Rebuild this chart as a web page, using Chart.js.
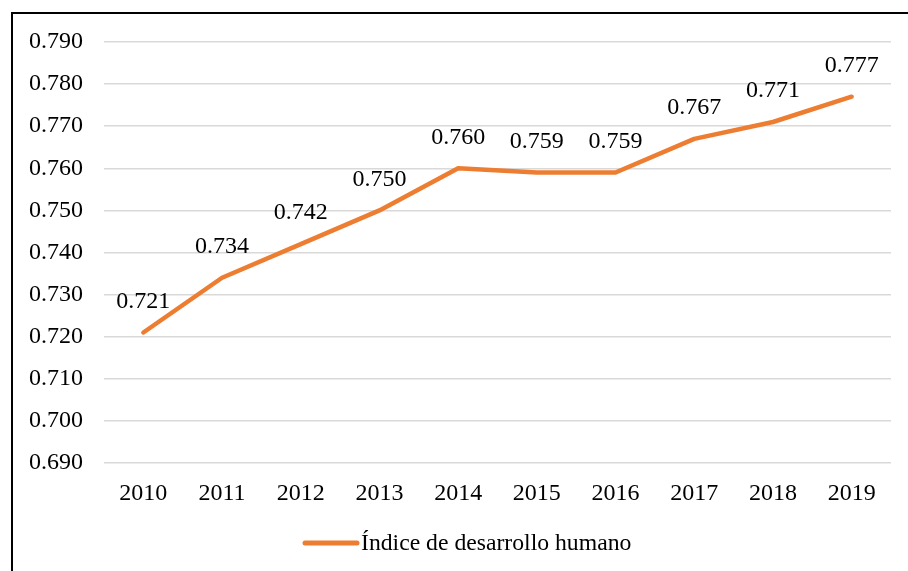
<!DOCTYPE html>
<html>
<head>
<meta charset="utf-8">
<script src="https://cdn.jsdelivr.net/npm/chart.js@4"></script>
<style>
  html, body { margin: 0; padding: 0; background: #fff; }
  #wrap { width: 908px; height: 571px; }
</style>
</head>
<body>
<div id="wrap"><canvas id="idh-chart" width="908" height="571"></canvas></div>
<script>
// Índice de desarrollo humano 2010-2019
const years = ['2010', '2011', '2012', '2013', '2014', '2015', '2016', '2017', '2018', '2019'];
const idhValues = [0.721, 0.734, 0.742, 0.750, 0.760, 0.759, 0.759, 0.767, 0.771, 0.777];
const seriesName = 'Índice de desarrollo humano';
const yMin = 0.69;
const yMax = 0.79;
const yStep = 0.01;

const FONT = 'Liberation Serif, Times New Roman, serif';

// outer frame (only left and top edges are visible in the picture)
const framePlugin = {
    id: 'frame',
    beforeDraw(chart) {
        const ctx = chart.ctx;
        ctx.save();
        ctx.fillStyle = '#fff';
        ctx.fillRect(0, 0, chart.width, chart.height);
        ctx.strokeStyle = '#000';
        ctx.lineWidth = 2;
        ctx.beginPath();
        ctx.moveTo(12, chart.height + 2);
        ctx.lineTo(12, 13);
        ctx.lineTo(chart.width + 2, 13);
        ctx.stroke();
        ctx.restore();
    }
};

// value labels above each point
const valueLabels = {
    id: 'valueLabels',
    afterDatasetsDraw(chart) {
        const ctx = chart.ctx;
        const meta = chart.getDatasetMeta(0);
        const data = chart.data.datasets[0].data;
        ctx.save();
        ctx.font = '24px ' + FONT;
        ctx.fillStyle = '#000';
        ctx.textAlign = 'center';
        ctx.textBaseline = 'middle';
        meta.data.forEach(function(pt, i) {
            ctx.fillText(data[i].toFixed(3), pt.x, pt.y - 31);
        });
        ctx.restore();
    }
};

// legend drawn like the spreadsheet one: short thick line + text
const lineLegend = {
    id: 'lineLegend',
    afterDraw(chart) {
        const ctx = chart.ctx;
        const ds = chart.data.datasets[0];
        const y = 543;
        ctx.save();
        ctx.strokeStyle = ds.borderColor;
        ctx.lineWidth = 5;
        ctx.lineCap = 'round';
        ctx.beginPath();
        ctx.moveTo(305, y);
        ctx.lineTo(357, y);
        ctx.stroke();
        ctx.font = '23.7px ' + FONT;
        ctx.fillStyle = '#000';
        ctx.textAlign = 'left';
        ctx.textBaseline = 'middle';
        ctx.fillText(ds.label, 361, y + 1);
        ctx.restore();
    }
};

document.addEventListener('DOMContentLoaded', function() {
    const ctx = document.getElementById('idh-chart').getContext('2d');
    new Chart(ctx, {
        type: 'line',
        data: {
            labels: years,
            datasets: [{
                label: seriesName,
                data: idhValues,
                borderColor: '#ED7D31',
                backgroundColor: '#ED7D31',
                borderWidth: 4.5,
                borderCapStyle: 'round',
                borderJoinStyle: 'round',
                pointRadius: 0,
                tension: 0,
                fill: false
            }]
        },
        options: {
            responsive: false,
            animation: false,
            layout: { padding: { left: 0, right: 17, top: 42, bottom: 50 } },
            plugins: {
                legend: { display: false },
                tooltip: { enabled: false }
            },
            scales: {
                x: {
                    offset: true,
                    grid: { display: false, drawTicks: false },
                    border: { display: false },
                    ticks: {
                        padding: 16,
                        color: '#000',
                        font: { family: FONT, size: 24 },
                        maxRotation: 0
                    },
                    afterFit(scale) { scale.height = 58; }
                },
                y: {
                    min: yMin,
                    max: yMax,
                    grid: { color: '#d9d9d9', lineWidth: 1.5, drawTicks: false },
                    border: { display: false },
                    ticks: {
                        stepSize: yStep,
                        padding: 21,
                        color: '#000',
                        font: { family: FONT, size: 24 },
                        callback: function(v) { return v.toFixed(3); }
                    },
                    afterFit(scale) { scale.width = 104; }
                }
            }
        },
        plugins: [framePlugin, valueLabels, lineLegend]
    });
});
</script>
</body>
</html>
